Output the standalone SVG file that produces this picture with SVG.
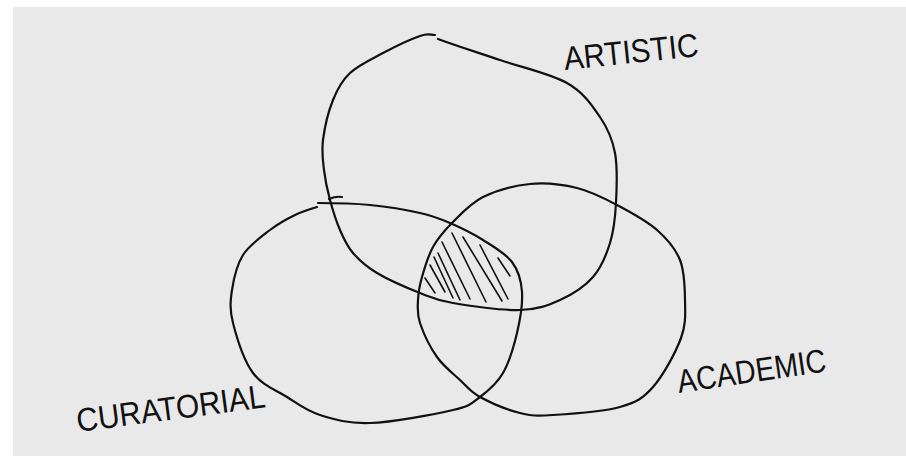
<svg xmlns="http://www.w3.org/2000/svg" width="906" height="456" viewBox="0 0 906 456">
<style>
.outline{fill:none;stroke:#111;stroke-width:2.2;stroke-linecap:round;stroke-linejoin:round}
.hatch{fill:none;stroke:#111;stroke-width:1.6;stroke-linecap:round}
.label{font-family:"Liberation Sans",Arial,sans-serif;fill:#111;font-size:33px}
</style>
<rect x="0" y="0" width="906" height="456" fill="#ffffff"/>
<rect x="13" y="7" width="893" height="449" fill="#e9e9e9"/>
<g id="artistic">
<path class="outline" d="M438,39 C448,43 478.5,52.7 500,60 C521.5,67.3 550.3,73.5 567,83 C583.7,92.5 592,105.3 600,117 C608,128.7 612.3,138.7 615,153 C617.7,167.3 616.8,188 616,203 C615.2,218 613.8,230.7 610,243 C606.2,255.3 601.3,267.5 593,277 C584.7,286.5 572.2,294.5 560,300 C547.8,305.5 537.8,309.5 520,310 C502.2,310.5 469.7,305.8 453,303 C436.3,300.2 432.7,298 420,293 C407.3,288 388.2,279.7 377,273 C365.8,266.3 359.2,260.2 353,253 C346.8,245.8 343.8,238.8 340,230 C336.2,221.2 332.7,210 330,200 C327.3,190 325.2,180 324,170 C322.8,160 321.5,151.7 323,140 C324.5,128.3 328.5,111.2 333,100 C337.5,88.8 341.7,80.8 350,73 C358.3,65.2 371.3,59.2 383,53 C394.7,46.8 411.3,39 420,36 C428.7,33 430,35 435,35"/>
<text class="label" x="565" y="70" font-size="34" textLength="135" lengthAdjust="spacingAndGlyphs" transform="rotate(-6 565 70)">ARTISTIC</text>
</g>
<g id="curatorial">
<path class="outline" d="M317,207 C310,209 302.8,211.2 295,215 C287.2,218.8 278.7,223.3 270,230 C261.3,236.7 249.3,245 243,255 C236.7,265 233.7,278.7 232,290 C230.3,301.3 229.5,309.2 233,323 C236.5,336.8 244,360.7 253,373 C262,385.3 275.8,390 287,397 C298.2,404 306.2,410.7 320,415 C333.8,419.3 347.8,423.8 370,423 C392.2,422.2 434.7,414.3 453,410 C471.3,405.7 471.7,403.2 480,397 C488.3,390.8 496.8,383.7 503,373 C509.2,362.3 513.8,346.5 517,333 C520.2,319.5 522.8,303.8 522,292 C521.2,280.2 518.5,270.7 512,262 C505.5,253.3 493.3,246.5 483,240 C472.7,233.5 460.5,227.5 450,223 C439.5,218.5 433.3,216 420,213 C406.7,210 386.7,206.7 370,205 C353.3,203.3 328,203 318,203"/>
<path class="outline" d="M329,199 Q336,196 342,197"/>
<text class="label" x="78" y="432" font-size="38" textLength="190" lengthAdjust="spacingAndGlyphs" transform="rotate(-7.5 78 432)">CURATORIAL</text>
</g>
<g id="academic">
<path class="outline" d="M418,300 C418.3,292.3 419.5,285.8 422,277 C424.5,268.2 428,256 433,247 C438,238 443.7,231.3 452,223 C460.3,214.7 470,203.5 483,197 C496,190.5 514.3,185.5 530,184 C545.7,182.5 562.5,184.5 577,188 C591.5,191.5 603.7,198 617,205 C630.3,212 646.5,220.8 657,230 C667.5,239.2 675.3,248.3 680,260 C684.7,271.7 684.8,287 685,300 C685.2,313 686.3,323.5 681,338 C675.7,352.5 663.2,375.5 653,387 C642.8,398.5 636.7,402.3 620,407 C603.3,411.7 569.7,414 553,415 C536.3,416 532.2,416 520,413 C507.8,410 490,402.5 480,397 C470,391.5 467.2,386.7 460,380 C452.8,373.3 443.7,366.5 437,357 C430.3,347.5 423.2,332.5 420,323 C416.8,313.5 417.7,307.7 418,300 Z"/>
<text class="label" x="679" y="393" font-size="38" textLength="150" lengthAdjust="spacingAndGlyphs" transform="rotate(-8.3 679 393)">ACADEMIC</text>
</g>
<g id="intersection">
<path class="hatch" d="M425,278 L435,293 M430,265 L445,292 M434,257 L453,298 M438,253 L460,300 M442,242 L470,299 M452,233 L486,302 M463,237 L502,301 M480,245 L508,299 M498,258 L510,276"/>
</g>
</svg>
